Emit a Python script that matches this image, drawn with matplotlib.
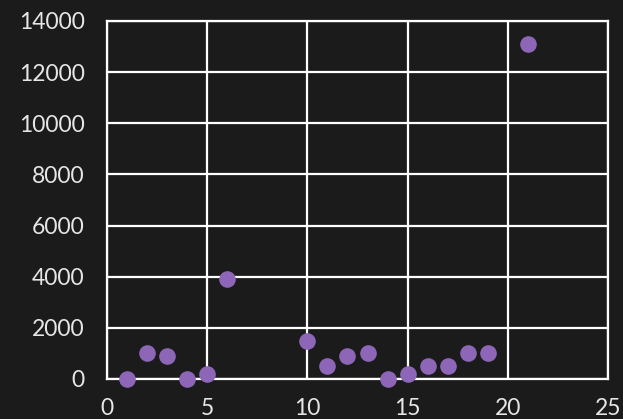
import matplotlib.pyplot as plt

x_vals = [1, 2, 3, 4, 5, 6, 10, 11, 12, 13, 14, 15, 16, 17, 18, 19, 21]
y_vals = [0, 1000, 900, 0, 200, 3900, 1500, 500, 900, 1000, 0, 200, 500, 500, 1000, 1000, 13100]

bg = '#1b1b1b'
txt = '#e6e6e6'
plt.rcParams['font.family'] = ['Lato', 'DejaVu Sans']

fig = plt.figure(figsize=(6.23, 4.19), dpi=100, facecolor=bg)
ax = fig.add_axes([0.1717, 0.0955, 0.8043, 0.8545], facecolor=bg)

ax.scatter(x_vals, y_vals, s=120, color='#8d66b8', zorder=3, clip_on=False)

ax.set_xlim(0, 25)
ax.set_ylim(0, 14000)
ax.set_xticks(range(0, 26, 5))
ax.set_yticks(range(0, 14001, 2000))
ax.grid(True, color='white', linewidth=1.6)
ax.set_axisbelow(True)
for sp in ax.spines.values():
    sp.set_color('white')
    sp.set_linewidth(1.6)
ax.tick_params(length=0, colors=txt, labelsize=16.5)
ax.tick_params(axis='y', pad=16)
ax.tick_params(axis='x', pad=14)

fig.savefig('out.png', dpi=100, facecolor=bg)
